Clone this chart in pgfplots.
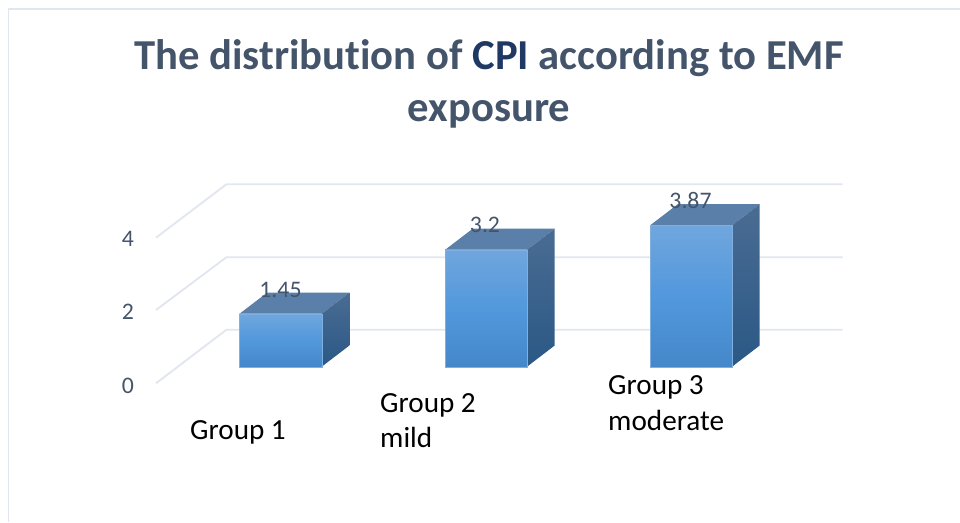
\documentclass[border=0pt]{standalone}
\usepackage{fontspec}
\setmainfont[Ligatures=NoCommon]{Carlito}
\usepackage{pgfplots}
\pgfplotsset{compat=1.18}
\definecolor{txt}{HTML}{44546A}
\definecolor{gridc}{HTML}{E2E6EE}
\definecolor{topc}{HTML}{5A7FA9}
\definecolor{sidetop}{HTML}{4A6C93}
\definecolor{sidebot}{HTML}{2A5885}
\definecolor{fronttop}{HTML}{70A6DE}
\definecolor{frontmid}{HTML}{5298DC}
\definecolor{frontbot}{HTML}{4488CA}
\definecolor{edgec}{HTML}{7FB0E0}
\newcommand{\threedbar}[3]{%
  % x0, x1, value
  \pgfmathsetmacro{\xa}{#1}\pgfmathsetmacro{\xb}{#2}\pgfmathsetmacro{\xc}{#2+27.7}\pgfmathsetmacro{\xd}{#1+27.7}%
  \pgfmathsetmacro{\v}{#3}\pgfmathsetmacro{\w}{#3+0.581}%
  \edef\tmp{\noexpand\addplot[draw=none,fill=topc,forget plot] coordinates {(\xa,\v) (\xb,\v) (\xc,\w) (\xd,\w)} -- cycle;
  \noexpand\addplot[draw=none,top color=sidetop,bottom color=sidebot,forget plot] coordinates {(\xb,0) (\xc,0.581) (\xc,\w) (\xb,\v)} -- cycle;
  \noexpand\addplot[draw=edgec,line width=0.3pt,top color=fronttop,bottom color=frontbot,middle color=frontmid,forget plot] coordinates {(\xa,0) (\xb,0) (\xb,\v) (\xa,\v)} -- cycle;}\tmp}
\begin{document}
\begin{tikzpicture}
\begin{axis}[
  scale only axis, width=720pt, height=391.5pt,
  xmin=0, xmax=960, ymin=-4.2548, ymax=10.0466,
  hide axis, clip=false]
\path[use as bounding box] (axis cs:0,-4.2548) rectangle (axis cs:960,10.0466);
% chart frame
\addplot[gridc,line width=1.4pt,forget plot] coordinates {(8.5,-4.2548) (8.5,9.81) (960,9.81)};
% gridlines: left wall and back wall
\addplot[gridc,line width=1.4pt,forget plot] coordinates {(156,-0.455) (226.5,1.014) (842.7,1.014)};
\addplot[gridc,line width=1.4pt,forget plot] coordinates {(156,1.553) (226.5,3.0) (842.7,3.0)};
\addplot[gridc,line width=1.4pt,forget plot] coordinates {(156,3.534) (226.5,5.0) (842.7,5.0)};
\threedbar{239.5}{321.7}{1.45}
\threedbar{445}{527}{3.20}
\threedbar{650}{732}{3.87}
\node[text=txt,font=\fontsize{17.8}{20}\selectfont] at (axis cs:128,-0.52) {0};
\node[text=txt,font=\fontsize{17.8}{20}\selectfont] at (axis cs:128,1.50) {2};
\node[text=txt,font=\fontsize{17.8}{20}\selectfont] at (axis cs:128,3.50) {4};
\node[text=txt,font=\fontsize{17.8}{20}\selectfont] at (axis cs:280.5,2.10) {1.45};
\node[text=txt,font=\fontsize{17.8}{20}\selectfont] at (axis cs:485,3.88) {3.2};
\node[text=txt,font=\fontsize{17.8}{20}\selectfont] at (axis cs:690.5,4.55) {3.87};
\node[black,anchor=west,font=\fontsize{21.9}{26}\selectfont] at (axis cs:185.5,-1.81) {Group 1};
\node[black,anchor=west,align=left,font=\fontsize{21.9}{26}\selectfont] at (axis cs:375.5,-1.48) {Group 2\\mild};
\node[black,anchor=west,align=left,font=\fontsize{21.9}{27}\selectfont] at (axis cs:603.5,-0.99) {Group 3\\moderate};
\node[text=txt,align=center,font=\fontsize{32}{39}\selectfont\bfseries] at (axis cs:489,7.74) {The distribution of \textcolor[HTML]{1F3864}{CPI} according to EMF\\exposure};
\end{axis}
\end{tikzpicture}
\end{document}
